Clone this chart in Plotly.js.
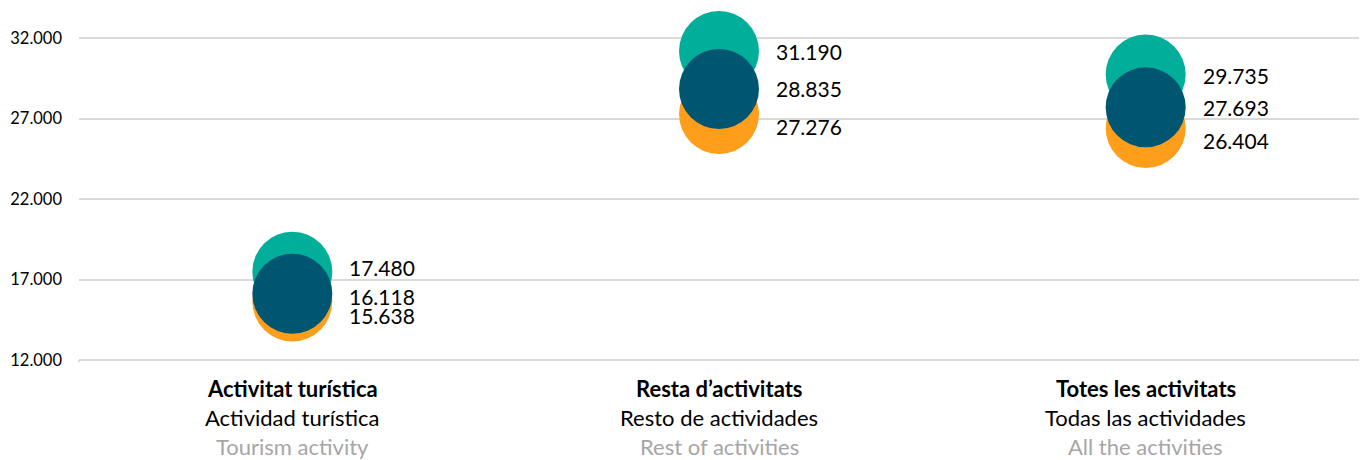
<!DOCTYPE html>
<html>
<head>
<meta charset="utf-8">
<script src="https://cdn.plot.ly/plotly-3.0.1.min.js"></script>
<style>html,body{margin:0;padding:0;background:#fff;}#chart{width:1367px;height:460px;}</style>
</head>
<body>
<div id="chart"></div>
<script>
const categories = ["Activitat turística", "Resta d’activitats", "Totes les activitats"];
const labelsCa = ["Activitat turística", "Resta d’activitats", "Totes les activitats"];
const labelsEs = ["Actividad turística", "Resto de actividades", "Todas las actividades"];
const labelsEn = ["Tourism activity", "Rest of activities", "All the activities"];
const seriesOrange = [15638, 27276, 26404];
const seriesTeal = [17480, 31190, 29735];
const seriesDark = [16118, 28835, 27693];
const tickVals = [12000, 17000, 22000, 27000, 32000];
const tickText = ["12.000", "17.000", "22.000", "27.000", "32.000"];

const fmt = v => v.toLocaleString('de-DE');
const FONT = "Lato, 'Open Sans', sans-serif";

function trace(vals, color) {
  return {type: 'scatter', mode: 'markers', x: categories, y: vals,
    marker: {size: 80, color: color, line: {width: 0}}, hoverinfo: 'skip', showlegend: false};
}
const data = [trace(seriesOrange, '#FF9E1B'), trace(seriesTeal, '#00AE9A'), trace(seriesDark, '#005670')];

// label vertical nudges (px) to avoid overlaps, per category: [teal, dark, orange]
const nudges = [[4, -3, -14], [0, 0, -12], [-1, 0, -12]];
const annotations = [];
categories.forEach((c, i) => {
  [[seriesTeal, 0], [seriesDark, 1], [seriesOrange, 2]].forEach(([s, k]) => {
    annotations.push({x: c, y: s[i], xref: 'x', yref: 'y', text: fmt(s[i]), showarrow: false,
      xanchor: 'left', yanchor: 'middle', xshift: 55, yshift: nudges[i][k],
      font: {family: FONT, size: 21, color: '#000'}});
  });
  annotations.push({x: c, y: 0, xref: 'x', yref: 'paper', text: '<b>' + labelsCa[i] + '</b>', showarrow: false,
    xanchor: 'center', yanchor: 'middle', yshift: -26, font: {family: FONT, size: 22, color: '#000'}});
  annotations.push({x: c, y: 0, xref: 'x', yref: 'paper', text: labelsEs[i], showarrow: false,
    xanchor: 'center', yanchor: 'middle', yshift: -55, font: {family: FONT, size: 22, color: '#000'}});
  annotations.push({x: c, y: 0, xref: 'x', yref: 'paper', text: labelsEn[i], showarrow: false,
    xanchor: 'center', yanchor: 'middle', yshift: -84, font: {family: FONT, size: 22, color: '#A6A6A6'}});
});

const layout = {
  width: 1367, height: 460,
  margin: {l: 78.5, r: 7.5, t: 0, b: 98},
  paper_bgcolor: '#fff', plot_bgcolor: '#fff',
  showlegend: false,
  xaxis: {type: 'category', range: [-0.5, 2.5], showticklabels: false, showgrid: false,
    zeroline: false, showline: false, ticks: ''},
  yaxis: {range: [11876, 34360], tickvals: tickVals, ticktext: tickText, showgrid: true,
    gridcolor: '#D9D9D9', gridwidth: 2, zeroline: false, showline: false, ticks: '',
    ticklabelstandoff: 16, tickfont: {family: FONT, size: 16.5, color: '#000'}},
  annotations: annotations,
  shapes: [{type: 'line', xref: 'paper', yref: 'y', x0: 0, x1: 0, ysizemode: 'pixel', yanchor: 12000,
    y0: 0, y1: -8, line: {color: '#D9D9D9', width: 2}}]
};
Plotly.newPlot('chart', data, layout, {displayModeBar: false, staticPlot: true});
</script>
</body>
</html>
